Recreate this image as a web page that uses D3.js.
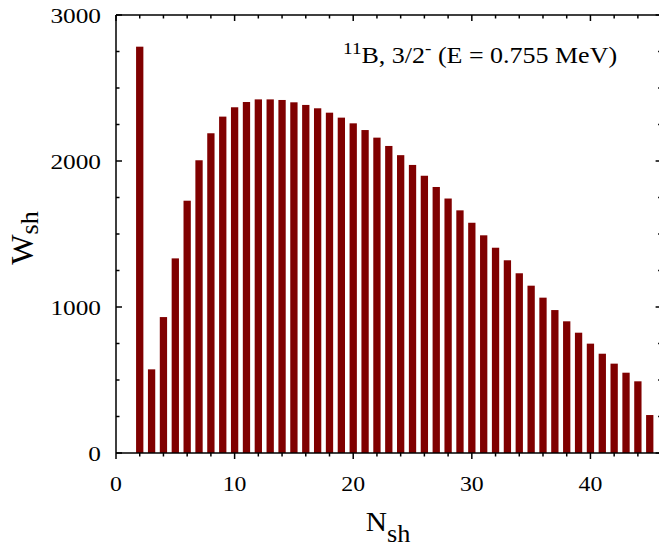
<!DOCTYPE html>
<html><head><meta charset="utf-8">
<script src="https://cdn.jsdelivr.net/npm/d3@7"></script>
<style>body{margin:0;background:#fff}svg{display:block}</style>
</head><body>
<script>
const nsh = [2,3,4,5,6,7,8,9,10,11,12,13,14,15,16,17,18,19,20,21,22,23,24,25,26,27,28,29,30,31,32,33,34,35,36,37,38,39,40,41,42,43,44,45];
const wsh = [2783,573,931,1333,1728,2005,2190,2304,2368,2404,2422,2422,2418,2402,2384,2361,2331,2297,2258,2212,2160,2103,2040,1973,1899,1822,1743,1662,1577,1491,1406,1320,1231,1146,1064,979,902,824,749,680,612,550,491,260];
const xTicks = [0,10,20,30,40];
const yTicks = [0,1000,2000,3000];
const xMinor = d3.range(0,47,2);
const yMinor = d3.range(0,3001,250);

const W=659,H=547;
const svg=d3.select("body").append("svg").attr("width",W).attr("height",H);
const x=d3.scaleLinear().domain([0,46]).range([116,661.6]);
const y=d3.scaleLinear().domain([0,3000]).range([453,15]);
const color="#800000";
const font="Liberation Serif, Times New Roman, serif";

svg.append("g").selectAll("rect").data(nsh).join("rect")
  .attr("x",(d)=>x(d)-3.65).attr("width",7.3)
  .attr("y",(d,i)=>y(wsh[i])).attr("height",(d,i)=>y(0)-y(wsh[i]))
  .attr("fill",color);

const ax=svg.append("g").attr("stroke","#000").attr("stroke-width",1.5).attr("fill","none");
ax.append("path").attr("d",`M${x(0)},${y(0)}H${x(46)}M${x(0)},${y(3000)}H${x(46)}M${x(0)},${y(0)}V${y(3000)}M${x(46)},${y(0)}V${y(3000)}`);
ax.selectAll(".bt").data(xMinor).join("line")
  .attr("x1",d=>x(d)).attr("x2",d=>x(d)).attr("y1",y(0)).attr("y2",d=>y(0)+(d%10===0?6:3.5));
ax.selectAll(".tt").data(xMinor).join("line")
  .attr("x1",d=>x(d)).attr("x2",d=>x(d)).attr("y1",y(3000)).attr("y2",d=>y(3000)+(d%10===0?6:3.5));
ax.selectAll(".lt").data(yMinor).join("line")
  .attr("y1",d=>y(d)).attr("y2",d=>y(d)).attr("x1",x(0)).attr("x2",d=>x(0)+(d%1000===0?6:3.5));
ax.selectAll(".rt").data(yMinor).join("line")
  .attr("y1",d=>y(d)).attr("y2",d=>y(d)).attr("x1",x(46)).attr("x2",d=>x(46)-(d%1000===0?6:3.5));

const tx=svg.append("g").attr("font-family",font).attr("fill","#000");
tx.selectAll(".xl").data(xTicks).join("text")
  .attr("transform",d=>`translate(${x(d)},491) scale(1.08,1)`).attr("text-anchor","middle").attr("font-size",22).text(d=>d);
tx.selectAll(".yl").data(yTicks).join("text")
  .attr("transform",d=>`translate(101,${y(d)+7.5}) scale(1.15,1)`).attr("text-anchor","end").attr("font-size",22).text(d=>d);

// axis titles
const xt=tx.append("text").attr("transform","translate(388,531) scale(1.05,1)").attr("text-anchor","middle").attr("font-size",28);
xt.append("tspan").text("N");
xt.append("tspan").attr("font-size",25).attr("dy",11).text("sh");
const yt=tx.append("text").attr("transform","translate(33,238) rotate(-90)").attr("text-anchor","middle").attr("font-size",32);
yt.append("tspan").text("W");
yt.append("tspan").attr("font-size",26).attr("dy",5).text("sh");

// annotation
const an=tx.append("text").attr("transform","translate(343,63) scale(1.13,1)").attr("font-size",23);
an.append("tspan").attr("font-size",17).attr("dy",-9).text("11");
an.append("tspan").attr("dy",9).text("B, 3/2");
an.append("tspan").attr("font-size",17).attr("dy",-9).text("-");
an.append("tspan").attr("dy",9).text(" (E = 0.755 MeV)");
</script>
</body></html>
